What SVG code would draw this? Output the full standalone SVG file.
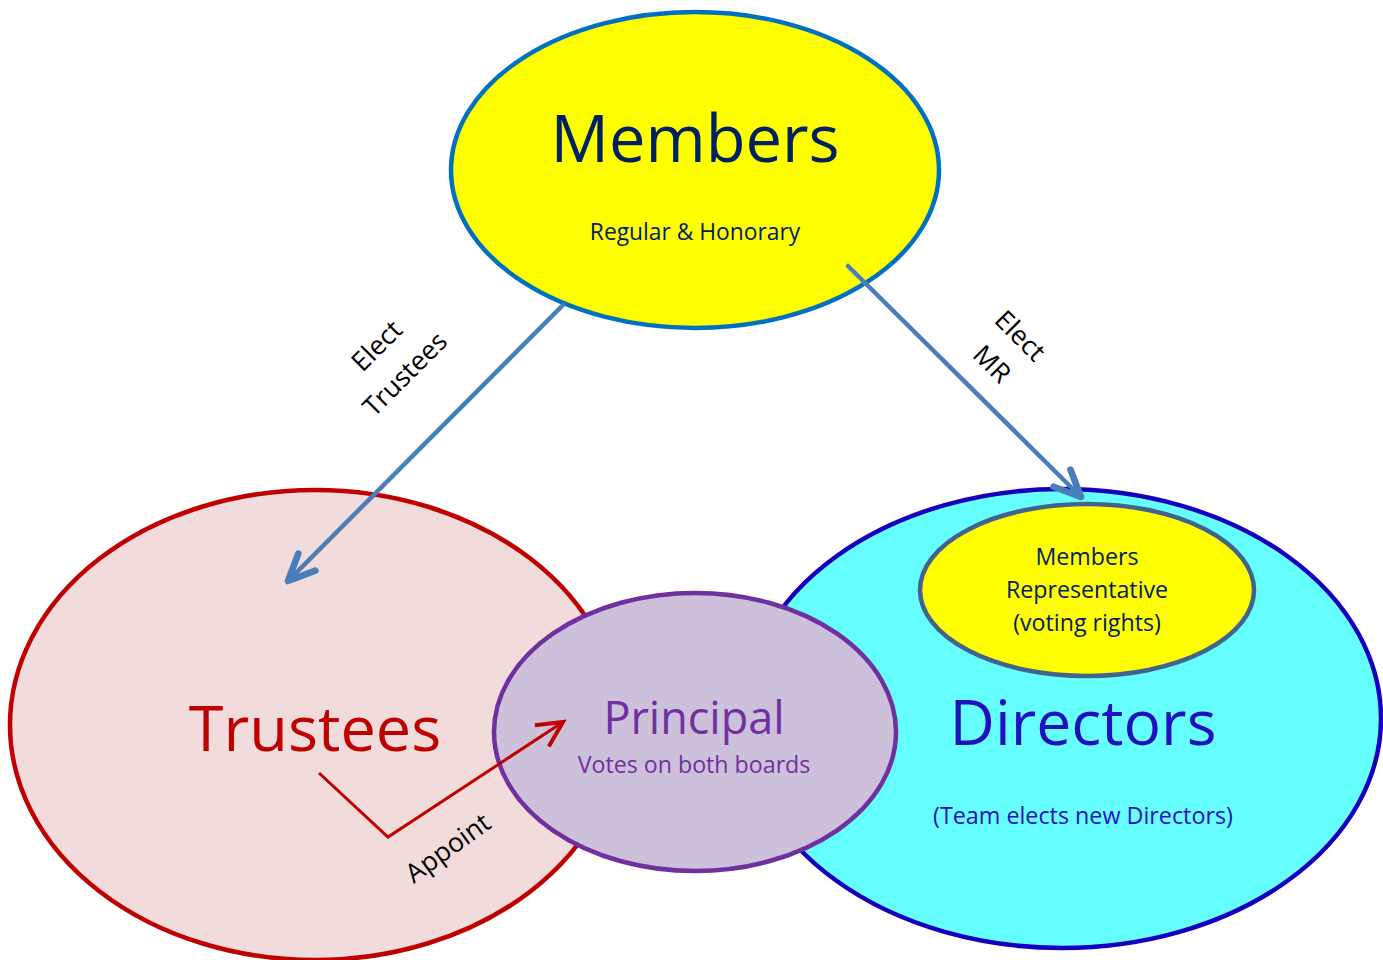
<svg xmlns="http://www.w3.org/2000/svg" width="1383" height="960" viewBox="0 0 1383 960">
  <style>
    text { font-family: "Open Sans", "Noto Sans", "Liberation Sans", sans-serif; text-anchor: middle; }
    .navy { fill: #002060; }
    .label { fill: #000000; font-size: 26.5px; }
    .elect { fill: none; stroke: #4A7EBB; stroke-width: 4.5; stroke-linecap: round; }
    .appoint { fill: none; stroke: #C00000; stroke-width: 3; stroke-linejoin: miter; }
  </style>
  <defs>
    <marker id="blueHead" markerUnits="userSpaceOnUse" markerWidth="40" markerHeight="40" viewBox="-25 -15 30 30" refX="0" refY="0" orient="auto">
      <path d="M-20,-9 L0,0 L-20,9" fill="none" stroke="#4A7EBB" stroke-width="5" stroke-linecap="round" stroke-linejoin="round"/>
    </marker>
    <marker id="redHead" markerUnits="userSpaceOnUse" markerWidth="40" markerHeight="40" viewBox="-25 -15 30 30" refX="0" refY="0" orient="auto">
      <path d="M-19,-9.5 L0,0 L-19,9.5" fill="none" stroke="#C00000" stroke-width="3"/>
    </marker>
  </defs>

  <rect width="1383" height="960" fill="#FFFFFF"/>

  <!-- Board of trustees -->
  <g id="trustees">
    <ellipse cx="315" cy="725" rx="305" ry="235" fill="#F2DCDB" stroke="#C00000" stroke-width="4.5"/>
    <text x="315" y="751" font-size="63" fill="#C00000">Trustees</text>
  </g>

  <!-- Board of directors with the members representative seat -->
  <g id="directors">
    <ellipse cx="1062" cy="718.5" rx="319" ry="229.5" fill="#66FFFF" stroke="#1500C0" stroke-width="4.5"/>
    <text x="1083" y="745" font-size="62.5" fill="#2010C0">Directors</text>
    <text x="1083" y="824" font-size="23.3" fill="#2010C0">(Team elects new Directors)</text>
  </g>

  <g id="members-representative">
    <ellipse cx="1087" cy="590" rx="167" ry="86" fill="#FFFF00" stroke="#41638E" stroke-width="4.5"/>
    <text class="navy" x="1087" y="565" font-size="23.2">Members</text>
    <text class="navy" x="1087" y="598" font-size="23.2">Representative</text>
    <text class="navy" x="1087" y="631" font-size="23.2">(voting rights)</text>
  </g>

  <!-- Principal sits on both boards -->
  <g id="principal">
    <ellipse cx="695" cy="732" rx="201" ry="139" fill="#CCC0DA" stroke="#7030A0" stroke-width="4.5"/>
    <text x="694" y="734" font-size="45" fill="#7030A0">Principal</text>
    <text x="694" y="773" font-size="23.2" fill="#7030A0">Votes on both boards</text>
  </g>

  <!-- Membership -->
  <g id="members">
    <ellipse cx="695" cy="170" rx="244" ry="158" fill="#FFFF00" stroke="#0070C0" stroke-width="4.5"/>
    <text class="navy" x="695" y="162" font-size="65">Members</text>
    <text class="navy" x="695" y="240" font-size="22.8">Regular &amp; Honorary</text>
  </g>

  <!-- Connectors -->
  <g id="connectors">
    <line class="elect" x1="563" y1="305" x2="288" y2="581" marker-end="url(#blueHead)"/>
    <line class="elect" x1="848" y1="266" x2="1081" y2="497" marker-end="url(#blueHead)"/>
    <polyline class="appoint" points="319,773 388,837 563,722" marker-end="url(#redHead)"/>

    <g transform="translate(391,360) rotate(-45)">
      <text class="label" x="0" y="-11">Elect</text>
      <text class="label" x="0" y="29">Trustees</text>
    </g>
    <g transform="translate(1006,350) rotate(45)">
      <text class="label" x="0" y="-11">Elect</text>
      <text class="label" x="0" y="29">MR</text>
    </g>
    <g transform="translate(448,848) rotate(-36)">
      <text class="label" x="0" y="9" font-size="27.5">Appoint</text>
    </g>
  </g>
</svg>
